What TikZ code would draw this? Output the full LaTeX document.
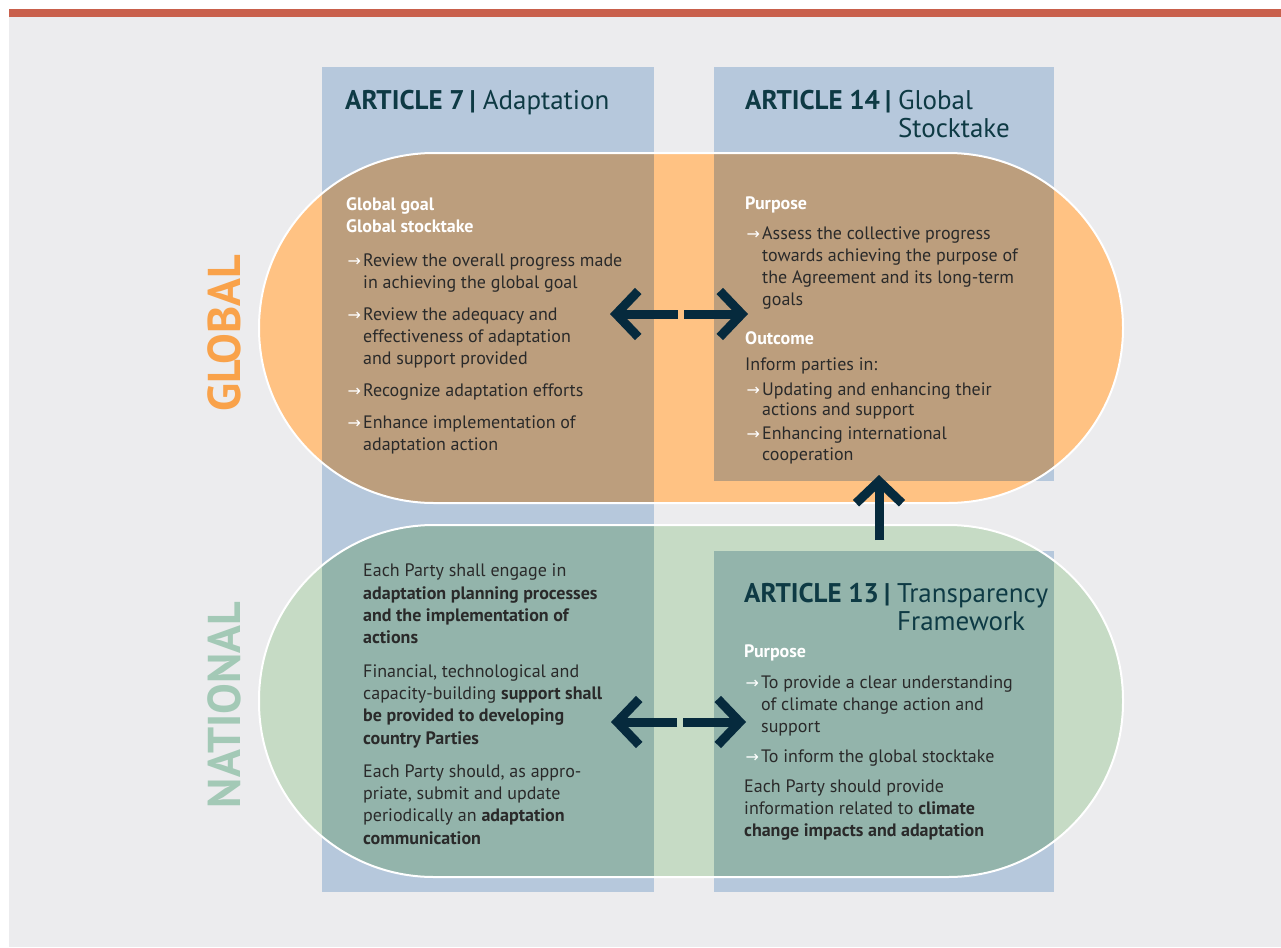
\documentclass[tikz,border=0pt]{standalone}
\usepackage{fontspec}
\setmainfont{PT Sans}
\newfontfamily\symfont{DejaVu Sans}
\usetikzlibrary{arrows.meta,positioning}

\definecolor{panelgrey}{HTML}{ECECEE}
\definecolor{stripred}{HTML}{C9604C}
\definecolor{colblue}{HTML}{B6C8DC}
\definecolor{globorange}{HTML}{FFC283}
\definecolor{globbrown}{HTML}{BC9E7D}
\definecolor{natgreen}{HTML}{C6DBC5}
\definecolor{natteal}{HTML}{93B4AB}
\definecolor{bodytext}{HTML}{2A2A2A}
\definecolor{titleteal}{HTML}{0E3A44}
\definecolor{arrownavy}{HTML}{062A3D}
\definecolor{sideorange}{HTML}{F9A24A}
\definecolor{sidegreen}{HTML}{A3C9B6}

% bullet arrow and indent of its following lines
\newcommand{\arr}{\makebox[17pt][l]{\hspace{1.5pt}\textcolor{white}{\symfont\fontsize{16}{16}\selectfont →}}}
\newcommand{\ind}{\hspace*{17pt}}
\newcommand{\hd}[1]{\textcolor{white}{\textbf{#1}}}
\newcommand{\artbar}{\kern5pt\textbf{|}\kern7pt}

\begin{document}
\begin{tikzpicture}[x=1pt,y=-1pt,
    every node/.style={inner sep=0pt},
    body/.style={anchor=north west, align=left, text=bodytext, font=\fontsize{18}{22}\selectfont},
    title/.style={anchor=base west, text=titleteal, font=\fontsize{27}{28}\selectfont},
    side/.style={rotate=90, font=\fontsize{46}{46}\selectfont\bfseries},
    bigarrow/.style={draw=arrownavy, line width=9pt, -{Straight Barb[length=22pt,width=46pt]}},
    pill/.style={rounded corners=174.9pt}]

\useasboundingbox (0,0) rectangle (1281,947);

% page
\fill[white] (0,0) rectangle (1281,947);
\fill[panelgrey] (9,17) rectangle (1281,947);
\fill[stripred] (9,9) rectangle (1281,17);

% article columns
\fill[colblue] (322,67) rectangle (654,892);
\fill[colblue] (714,67) rectangle (1054,481);
\fill[colblue] (714,551) rectangle (1054,892);

% global pill
\fill[globorange, pill] (259,153) rectangle (1123,503);
\begin{scope}
  \clip[pill] (259,153) rectangle (1123,503);
  \fill[globbrown] (322,67) rectangle (654,892);
  \fill[globbrown] (714,67) rectangle (1054,481);
\end{scope}
\draw[white, line width=2pt, pill] (259,153) rectangle (1123,503);

% national pill
\fill[natgreen, pill] (259,525) rectangle (1123,877);
\begin{scope}
  \clip[pill] (259,525) rectangle (1123,877);
  \fill[natteal] (322,67) rectangle (654,892);
  \fill[natteal] (714,551) rectangle (1054,892);
\end{scope}
\draw[white, line width=2pt, pill] (259,525) rectangle (1123,877);

% side labels
\node[side, text=sideorange] (global) at (224,333) {GLOBAL};
\node[side, text=sidegreen] (national) at (224,705) {NATIONAL};

% titles
\node[title] (art7) at (345,110) {\textbf{ARTICLE 7}\artbar Adaptation};
\node[title] (art14) at (745,110) {\begin{tabular}[t]{@{}l@{}l@{}}\textbf{ARTICLE 14}\artbar & Global\\ & Stocktake\end{tabular}};
\node[title] (art13) at (744,602) {\begin{tabular}[t]{@{}l@{}l@{}}\textbf{ARTICLE 13}\artbar & Transparency\\ & Framework\end{tabular}};

% global texts
\node[body] (goal7) at (346,197) {\hd{Global goal}\\
  \hd{Global stocktake}\\[12pt]
  \arr Review the overall progress made\\
  \ind in achieving the global goal\\[10pt]
  \arr Review the adequacy and\\
  \ind effectiveness of adaptation\\
  \ind and support provided\\[10pt]
  \arr Recognize adaptation efforts\\[10pt]
  \arr Enhance implementation of\\
  \ind adaptation action};

\node[body] (purp14) at (745,197) {\hd{Purpose}\\[8pt]
  \arr Assess the collective progress\\
  \ind towards achieving the purpose of\\
  \ind the Agreement and its long-term\\
  \ind goals};

\node[body, font=\fontsize{18}{21}\selectfont] (outc14) at (745,331) {\hd{Outcome}\\[5pt]
  Inform parties in:\\[4pt]
  \arr Updating and enhancing their\\[-1pt]
  \ind actions and support\\[3pt]
  \arr Enhancing international\\
  \ind cooperation};

% national texts
\node[body, font=\fontsize{18}{22.3}\selectfont] (plan7) at (363,564) {Each Party shall engage in\\
  \textbf{adaptation planning processes}\\
  \textbf{and the implementation of}\\
  \textbf{actions}\\[11pt]
  Financial, technological and\\
  capacity-building \textbf{support shall}\\
  \textbf{be provided to developing}\\
  \textbf{country Parties}\\[11pt]
  Each Party should, as appro-\\
  priate, submit and update\\
  periodically an \textbf{adaptation}\\
  \textbf{communication}};

\node[body] (purp13) at (744,645) {\hd{Purpose}\\[9pt]
  \arr To provide a clear understanding\\
  \ind of climate change action and\\
  \ind support\\[8pt]
  \arr To inform the global stocktake\\[8pt]
  Each Party should provide\\
  information related to \textbf{climate}\\
  \textbf{change impacts and adaptation}};

% arrows
\coordinate (glob-l) at (610,314);
\coordinate (glob-c1) at (678,314);
\coordinate (glob-c2) at (684,314);
\coordinate (glob-r) at (748,314);
\coordinate (nat-l) at (611,722);
\coordinate (nat-c1) at (677,722);
\coordinate (nat-c2) at (683,722);
\coordinate (nat-r) at (746,722);
\coordinate (up-s) at (879,540);
\coordinate (up-t) at (879,475);

\draw[bigarrow] (glob-c1) -- (glob-l);
\draw[bigarrow] (glob-c2) -- (glob-r);
\draw[bigarrow] (nat-c1) -- (nat-l);
\draw[bigarrow] (nat-c2) -- (nat-r);
\draw[bigarrow] (up-s) -- (up-t);
\end{tikzpicture}
\end{document}
